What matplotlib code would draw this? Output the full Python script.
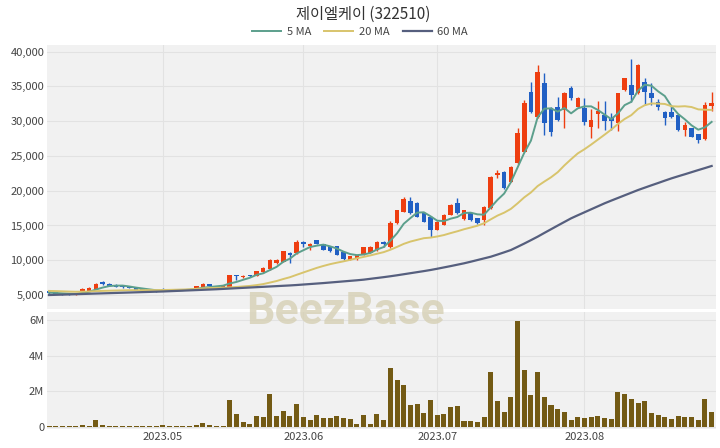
import numpy as np
import matplotlib
matplotlib.use("Agg")
import matplotlib.pyplot as plt
from matplotlib.ticker import FuncFormatter, FixedLocator

plt.rcParams['font.family'] = ['Noto Sans CJK KR', 'DejaVu Sans']

title = "제이엘케이 (322510)"

opens = [5600, 5400, 5300, 5200, 5100, 5550, 5650, 5900, 6900, 6650,
         6500, 6380, 6280, 6050, 5800, 5650, 5600, 5900, 5750, 5750,
         5800, 5800, 5960, 6150, 6550, 6300, 6200, 6150, 7850, 7650,
         7850, 7800, 8250, 8700, 9550, 9800, 11100, 11000, 12600, 12050,
         12900, 12300, 12050, 12050, 11200, 10050, 10150, 10750, 11050, 11450,
         12650, 11850, 15300, 17000, 18550, 18250, 16850, 16250, 14350, 15050,
         16500, 18250, 15900, 16840, 16030, 15790, 17470, 22260, 22740, 21300,
         23940, 25610, 34240, 30650, 35450, 31850, 32090, 31610, 34720, 32090,
         31850, 29210, 31000, 30900, 30500, 29690, 34480, 35210, 34000, 35680,
         34000, 32810, 31370, 31370, 30890, 28730, 28970, 28130, 27390, 32190]
highs = [5650, 5450, 5350, 5250, 5250, 5950, 6100, 6700, 7000, 6700,
         6550, 6420, 6320, 6100, 5850, 5700, 5650, 5950, 5800, 5850,
         5850, 5900, 6300, 6700, 6600, 6350, 6400, 7900, 7900, 7850,
         7900, 8500, 9000, 10150, 10150, 11400, 11200, 12900, 12800, 12450,
         12950, 12350, 12100, 12100, 11250, 10650, 10800, 11900, 12000, 12700,
         12700, 15600, 17300, 19050, 19100, 18400, 16900, 16300, 15600, 16600,
         18100, 18900, 17300, 16900, 16100, 17750, 22100, 22970, 22800, 23500,
         29000, 33000, 35680, 38080, 36900, 32000, 33530, 34200, 35000, 33500,
         33300, 31800, 32900, 32900, 31200, 34100, 36200, 38880, 38200, 36200,
         35500, 33200, 31500, 32300, 31000, 29900, 29000, 28200, 32800, 34200]
lows = [5200, 5150, 5050, 5050, 5050, 5500, 5600, 5850, 6500, 6250,
        6150, 6050, 5950, 5700, 5600, 5500, 5450, 5700, 5650, 5700,
        5700, 5750, 5900, 6100, 6200, 6200, 6150, 6100, 7200, 7400,
        7650, 7750, 8200, 8650, 9450, 9750, 9600, 10900, 11900, 11500,
        12300, 11450, 11200, 10700, 10100, 10000, 10100, 10700, 11000, 11400,
        11900, 11800, 15200, 16900, 16700, 16200, 15500, 13400, 14300, 15000,
        16450, 16700, 15800, 15700, 15250, 15100, 17400, 21780, 20300, 21200,
        23800, 25500, 31200, 30500, 28010, 27900, 30000, 28970, 33000, 32000,
        29500, 27540, 29000, 28700, 28700, 28600, 34400, 32810, 33900, 32400,
        32400, 31600, 29500, 30500, 28600, 27900, 27700, 26900, 27300, 31500]
closes = [5250, 5200, 5100, 5100, 5200, 5900, 6050, 6650, 6550, 6300,
          6200, 6100, 6000, 5750, 5650, 5550, 5500, 5750, 5700, 5800,
          5750, 5850, 6290, 6600, 6250, 6250, 6350, 7850, 7700, 7800,
          7700, 8450, 8950, 10050, 10100, 11350, 10750, 12650, 12350, 12400,
          12350, 11500, 11400, 10800, 10150, 10600, 10750, 11850, 11900, 12650,
          12350, 15300, 17200, 18750, 16750, 16250, 15550, 14350, 15550, 16500,
          17950, 16750, 17230, 15790, 15310, 17700, 22020, 22590, 20350, 23460,
          28260, 32570, 31370, 37120, 29690, 28500, 30170, 34000, 33290, 33290,
          29930, 30170, 31400, 30000, 30000, 34000, 36160, 33770, 38080, 34240,
          33290, 32090, 30410, 30650, 28730, 29450, 27770, 27290, 32330, 32670]
volumes_m = [0.04, 0.03, 0.03, 0.03, 0.04, 0.11, 0.06, 0.36, 0.10, 0.06,
             0.04, 0.04, 0.03, 0.04, 0.03, 0.03, 0.03, 0.10, 0.05, 0.04,
             0.03, 0.04, 0.10, 0.21, 0.09, 0.05, 0.04, 1.52, 0.73, 0.26,
             0.15, 0.61, 0.56, 1.82, 0.60, 0.89, 0.60, 1.29, 0.56, 0.40,
             0.67, 0.49, 0.49, 0.62, 0.51, 0.42, 0.14, 0.69, 0.15, 0.72,
             0.37, 3.33, 2.63, 2.37, 1.20, 1.30, 0.78, 1.52, 0.65, 0.74,
             1.09, 1.17, 0.33, 0.35, 0.28, 0.56, 3.06, 1.48, 0.83, 1.69,
             5.95, 3.18, 1.80, 3.06, 1.67, 1.24, 1.00, 0.83, 0.41, 0.56,
             0.48, 0.56, 0.63, 0.52, 0.46, 1.98, 1.87, 1.57, 1.33, 1.48,
             0.80, 0.65, 0.56, 0.46, 0.63, 0.54, 0.57, 0.41, 1.56, 0.83]
# closes before the first visible day (only used for the 5/20 moving averages)
pre_close = [5700, 5750, 5800, 5700, 5650, 5600, 5700, 5750, 5800, 5700,
             5600, 5550, 5600, 5650, 5500, 5450, 5400, 5350, 5300]
# 60-day moving average
ma60 = [5000, 5030, 5060, 5090, 5120, 5150, 5180, 5210, 5240, 5270,
        5300, 5330, 5360, 5390, 5420, 5450, 5480, 5510, 5550, 5590,
        5630, 5670, 5710, 5750, 5790, 5830, 5880, 5930, 5980, 6030,
        6080, 6130, 6180, 6230, 6280, 6330, 6380, 6440, 6510, 6580,
        6650, 6720, 6800, 6880, 6960, 7040, 7120, 7210, 7330, 7450,
        7570, 7700, 7840, 7990, 8140, 8290, 8440, 8600, 8780, 8970,
        9160, 9360, 9560, 9790, 10030, 10270, 10510, 10820, 11140, 11470,
        11930, 12400, 12890, 13390, 13930, 14460, 14990, 15510, 16030, 16470,
        16900, 17330, 17760, 18190, 18580, 18960, 19340, 19720, 20100, 20440,
        20780, 21110, 21450, 21780, 22080, 22370, 22670, 22970, 23260, 23560]
month_labels = ["2023.05", "2023.06", "2023.07", "2023.08"]
month_first_idx = [17, 38, 58, 80]

# ---- derived ----
n = len(closes)
x = np.arange(n)
o = np.array(opens, float); h = np.array(highs, float)
l = np.array(lows, float); c = np.array(closes, float)
full = np.concatenate([np.array(pre_close, float), c])
def ma(k):
    s = np.convolve(full, np.ones(k) / k, mode='valid')
    return s[-n:]
ma5 = ma(5)
ma20 = ma(20)

RED = '#ee3e10'
BLUE = '#2160c4'
VOLC = '#735a14'
C5 = '#5c9f8c'
C20 = '#d8c46c'
C60 = '#565f7e'
BG = '#f1f1f1'
GRID = '#e2e2e2'
TXT = '#444444'

fig = plt.figure(figsize=(7.2, 4.48), dpi=100)
ax = fig.add_axes([47/720, 1-309/448, (716-47)/720, (309-45)/448])
axv = fig.add_axes([47/720, 1-429/448, (716-47)/720, (429-312)/448])

for a in (ax, axv):
    a.set_facecolor(BG)
    for s in a.spines.values():
        s.set_visible(False)
    a.grid(True, color=GRID, lw=0.8)
    a.set_axisbelow(True)
    a.tick_params(length=0, colors=TXT, labelsize=8)
    a.set_xlim(-0.3, 99.65)

up = c >= o
col = np.where(up, RED, BLUE)
ax.vlines(x, l, h, colors=col, lw=1.0, zorder=2)
body_h = np.maximum(np.abs(c - o), 70)
ax.bar(x, body_h, bottom=np.minimum(o, c), width=0.68, color=col, zorder=3)

ax.plot(x, ma5, color=C5, lw=1.4, zorder=4, label='5 MA')
ax.plot(x, ma20, color=C20, lw=1.4, zorder=4, label='20 MA')
ax.plot(x, ma60, color=C60, lw=1.6, zorder=4, label='60 MA')

ax.set_ylim(2990, 40960)
ax.yaxis.set_major_locator(FixedLocator(np.arange(5000, 40001, 5000)))
ax.yaxis.set_major_formatter(FuncFormatter(lambda v, p: f"{int(v):,}"))
ax.set_xticks(month_first_idx)
ax.set_xticklabels([])
ax.tick_params(axis='y', pad=2)

axv.bar(x, np.array(volumes_m) * 1e6, width=0.75, color=VOLC, zorder=3)
axv.set_ylim(-0.12e6, 6.45e6)
axv.yaxis.set_major_locator(FixedLocator([0, 2e6, 4e6, 6e6]))
axv.yaxis.set_major_formatter(FuncFormatter(lambda v, p: "0" if v == 0 else f"{int(v/1e6)}M"))
axv.set_xticks(month_first_idx)
axv.set_xticklabels(month_labels)
axv.tick_params(axis='x', pad=2)
axv.tick_params(axis='y', pad=2)

fig.text(0.505, 1-14/448, title, ha='center', va='center', fontsize=11, color='#333333')
leg = fig.legend(handles=ax.get_lines(), loc='center', bbox_to_anchor=(0.5, 1-32/448),
                 ncol=3, frameon=False, fontsize=8, handlelength=2.6, columnspacing=1.2,
                 handletextpad=0.5, labelcolor=TXT)

fig.text(345/720, 1-312/448, "BeezBase", ha='center', va='center', fontsize=32,
         fontweight='bold', color='#d6d0b4', alpha=0.8,
         family=['Roboto', 'DejaVu Sans'], zorder=10)

fig.savefig('out.png', dpi=100, facecolor='white')
